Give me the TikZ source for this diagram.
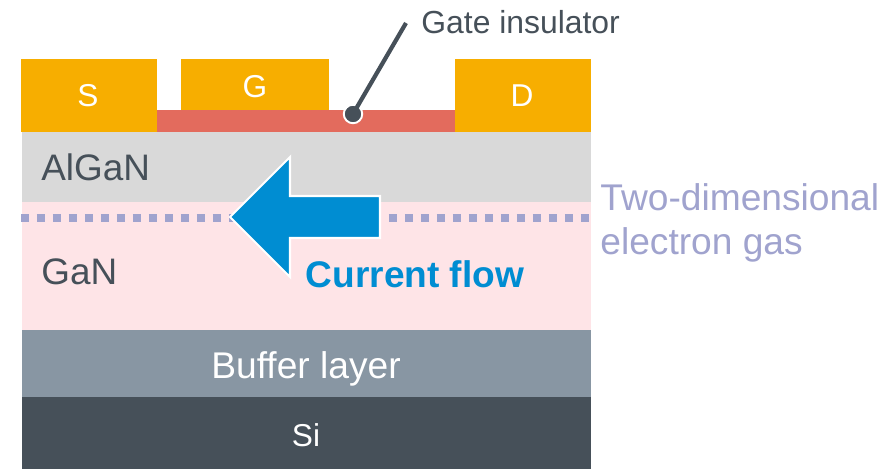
\documentclass[tikz,border=0pt]{standalone}
\usepackage{fontspec}
\setmainfont{Liberation Sans}
\definecolor{metal}{HTML}{F7AE00}
\definecolor{insul}{HTML}{E36B5D}
\definecolor{algan}{HTML}{D9D9D9}
\definecolor{gan}{HTML}{FEE4E7}
\definecolor{buffer}{HTML}{8896A3}
\definecolor{si}{HTML}{465059}
\definecolor{flow}{HTML}{008DD2}
\definecolor{gas}{HTML}{A0A3CE}
\tikzset{
  every node/.style={inner sep=0pt},
  whitelbl/.style={text=white,font=\fontsize{18}{21}\selectfont,anchor=base},
  darklbl/.style={text=si,font=\fontsize{21}{25}\selectfont,anchor=base west},
  gaslbl/.style={text=gas,font=\fontsize{21.15}{25}\selectfont,anchor=base west}
}
\begin{document}
\begin{tikzpicture}[x=0.02cm,y=0.02cm]
\useasboundingbox (0,0) rectangle (891,-469);
% layers
\fill [gan] (22,-202) rectangle (591,-330);
\fill [algan] (22,-132) rectangle (591,-202);
\fill [buffer] (22,-330) rectangle (591,-397);
\fill [si] (22,-397) rectangle (591,-469);
% electrodes
\fill [insul] (157,-110) rectangle (455,-132);
\fill [metal] (21,-59) rectangle (157,-132);
\fill [metal] (181,-59) rectangle (329,-110);
\fill [metal] (455,-59) rectangle (591,-132);
% electron gas
\draw [gas,line width=0.16cm,dash pattern=on 0.16cm off 0.16cm] (21,-218) -- (591,-218);
% current arrow
\fill [flow,draw=white,line width=1.2pt,miter limit=10] (230,-217) -- (290,-157) -- (290,-196) -- (380,-196) -- (380,-238) -- (290,-238) -- (290,-277) -- cycle;
% labels
\node [whitelbl] (source) at (88,-107) {S};
\node [whitelbl] (gate) at (255,-98) {G};
\node [whitelbl] (drain) at (522,-107) {D};
\node [darklbl] (alganlbl) at (41,-181) {AlGaN};
\node [darklbl] (ganlbl) at (41,-284) {GaN};
\node [whitelbl,font=\fontsize{21.15}{25}\selectfont] (bufferlbl) at (306,-378) {Buffer layer};
\node [whitelbl,font=\fontsize{18}{22}\selectfont] (silbl) at (306,-446) {Si};
\node [darklbl,font=\fontsize{18.15}{22}\selectfont] (insullbl) at (421,-34) {Gate insulator};
\node [gaslbl] (gaslbla) at (600,-211) {Two-dimensional};
\node [gaslbl] (gaslblb) at (600,-255) {electron gas};
\node [anchor=base,text=flow,font=\fontsize{21.1}{25}\selectfont\bfseries] (flowlbl) at (415,-287) {Current flow};
% leader
\coordinate (leaderend) at (406,-23);
\node [circle,fill=si,draw=white,line width=1.1pt,minimum size=0.37cm] (dot) at (353,-114) {};
\draw [si,line width=2.4pt] (dot.center) -- (leaderend);
\end{tikzpicture}
\end{document}
